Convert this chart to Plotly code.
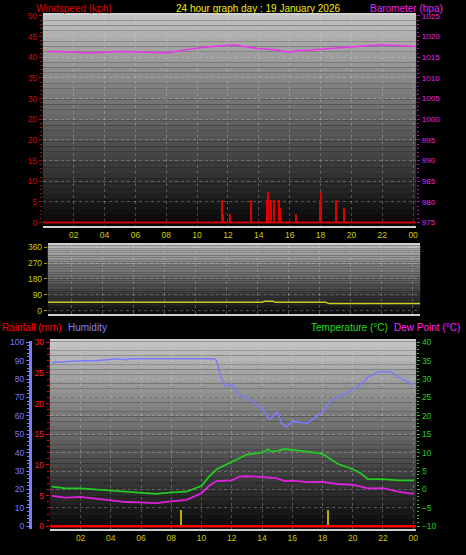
import plotly.graph_objects as go

# ---------------- data ----------------
hour_ticks = [2, 4, 6, 8, 10, 12, 14, 16, 18, 20, 22, 24]
hour_labels = ["02", "04", "06", "08", "10", "12", "14", "16", "18", "20", "22", "00"]

wind_t = [11.6, 11.7, 12.1, 13.5, 14.55, 14.62, 14.8, 15.0, 15.3, 15.4, 16.4, 17.98, 18.05, 19.0, 19.5]
wind_v = [5.5, 2.0, 2.0, 5.5, 5.5, 7.4, 5.5, 5.5, 5.5, 3.6, 2.0, 5.5, 7.4, 5.5, 3.6]

baro_t = [0.3, 1, 2, 3, 4, 5, 6, 7, 8, 9, 10, 11, 12, 12.5, 13, 14, 15, 16, 16.5, 17, 18, 19, 20, 21, 22, 23, 24.2]
baro_v = [1016.4, 1016.4, 1016.2, 1016.0, 1016.2, 1016.4, 1016.3, 1016.2, 1016.0, 1016.6, 1017.2, 1017.6,
          1017.9, 1018.0, 1017.6, 1017.1, 1016.8, 1016.2, 1016.6, 1016.6, 1016.9, 1017.2, 1017.6, 1017.8,
          1018.0, 1017.8, 1017.6]

dir_t = [0.45, 14.3, 14.45, 15.0, 15.15, 18.4, 18.6, 24.5]
dir_v = [47, 47, 54, 54, 47, 47, 40, 40]

hum_t = [0.1, 1, 2, 3, 4, 4.5, 5, 5.3, 6, 8, 10.8, 11, 11.3, 11.6, 12, 12.5, 13, 13.5, 14, 14.5, 15, 15.3,
         15.6, 16, 17, 17.5, 18, 18.5, 19, 20, 20.5, 21, 21.7, 22.5, 23, 24]
hum_v = [89, 89.5, 90, 90, 90.5, 91, 90.5, 91, 91, 91, 91, 90, 80, 76, 77, 71, 70, 67, 64, 58, 62, 56,
         54, 57, 56, 59, 62, 68, 70, 74, 77, 81, 84, 84, 81, 77]

temp_t = [0.1, 1, 2, 3, 4, 5, 6, 7, 8, 9, 10, 10.5, 11, 12, 13, 14, 14.4, 14.6, 15, 15.5, 16, 17, 18, 19,
          20, 20.5, 21, 22, 23, 24]
temp_v = [0.8, 0.3, 0.3, 0.0, -0.3, -0.7, -1.0, -1.2, -0.8, -0.6, 1.0, 3.5, 5.5, 7.5, 9.5, 10.0, 11.0,
          10.3, 10.5, 11.0, 10.8, 10.3, 9.7, 7.0, 5.5, 4.5, 2.8, 2.8, 2.5, 2.5]

dew_t = [0.1, 1, 2, 3, 4, 5, 6, 7, 8, 9, 10, 10.5, 11, 12, 12.5, 13, 14, 15, 15.5, 16, 17, 18, 19, 20,
         21, 22, 23, 24]
dew_v = [-1.7, -2.2, -2.0, -2.5, -2.8, -3.4, -3.5, -3.7, -3.2, -2.8, -1.0, 1.0, 2.3, 2.5, 3.5, 3.6, 3.4,
         3.0, 2.3, 2.4, 2.0, 2.1, 1.5, 1.3, 0.3, 0.4, -0.6, -1.2]

rain_t = [0.0, 24.2]
rain_v = [0.0, 0.0]

mark_t = [8.64, 18.34]
mark_v = [2.6, 2.6]

W, H = 466, 555
def px(x): return x / W
def py(y): return 1 - y / H

fig = go.Figure()

# panel 1
fig.add_trace(go.Scatter(x=[0, 24.3], y=[0, 0], mode="lines", line=dict(color="#cc0000", width=2),
                         xaxis="x", yaxis="y", hoverinfo="skip"))
fig.add_trace(go.Bar(x=wind_t, y=wind_v, width=0.08, marker=dict(color="#dd0000", line_width=0),
                     xaxis="x", yaxis="y"))
fig.add_trace(go.Scatter(x=baro_t, y=baro_v, mode="lines", line=dict(color="#ee33ee", width=1.5),
                         xaxis="x", yaxis="y2"))
# panel 2
fig.add_trace(go.Scatter(x=dir_t, y=dir_v, mode="lines", line=dict(color="#cccc22", width=1.5),
                         xaxis="x2", yaxis="y3"))
# panel 3
fig.add_trace(go.Scatter(x=rain_t, y=rain_v, mode="lines", line=dict(color="#ff0000", width=2.5),
                         xaxis="x3", yaxis="y6"))
fig.add_trace(go.Bar(x=mark_t, y=mark_v, width=0.08, marker=dict(color="#bbaa00", line_width=0),
                     xaxis="x3", yaxis="y6"))
fig.add_trace(go.Scatter(x=hum_t, y=hum_v, mode="lines", line=dict(color="#7b7bff", width=1.5),
                         xaxis="x3", yaxis="y5"))
fig.add_trace(go.Scatter(x=temp_t, y=temp_v, mode="lines", line=dict(color="#22cc22", width=1.8),
                         xaxis="x3", yaxis="y7"))
fig.add_trace(go.Scatter(x=dew_t, y=dew_v, mode="lines", line=dict(color="#dd22dd", width=1.8),
                         xaxis="x3", yaxis="y7"))

# gradient backgrounds
shapes = []
N = 40
for xr, yr, top, bot in [("x domain", "y domain", 192, 8), ("x2 domain", "y3 domain", 180, 14),
                         ("x3 domain", "y5 domain", 195, 10)]:
    for i in range(N):
        f = i / (N - 1)
        c = int(bot + (top - bot) * f)
        shapes.append(dict(type="rect", xref=xr, yref=yr, x0=0, x1=1, y0=i / N, y1=(i + 1) / N,
                           fillcolor=f"rgb({c},{c},{c})", line_width=0, layer="below"))

grid = dict(showgrid=True, gridcolor="rgba(220,220,220,0.3)", griddash="dot", gridwidth=1)
tf = dict(family="Liberation Sans, Arial", size=8.5)

def xax(domain, rng, show_labels, anchor):
    return dict(domain=domain, range=rng, anchor=anchor, tickvals=hour_ticks, ticktext=hour_labels,
                showticklabels=show_labels, tickfont=dict(tf, color="#cccc00"), ticks="",
                showline=True, linecolor="#d0d0d0", linewidth=2, mirror=True, zeroline=False, **grid)

layout = dict(
    width=W, height=H, paper_bgcolor="black", plot_bgcolor="black", showlegend=False,
    margin=dict(l=0, r=0, t=0, b=0), bargap=0, barmode="overlay", shapes=shapes,
    xaxis=xax([px(43), px(418)], [0, 24.2], True, "y"),
    yaxis=dict(domain=[py(224), py(11)], range=[-0.72, 50.24], anchor="x", dtick=5,
               tickfont=dict(tf, color="#dd0000"), ticks="outside", ticklen=3, tickcolor="#cc0000",
               minor=dict(ticks="outside", ticklen=2, dtick=1, tickcolor="#cc0000", showgrid=False),
               zeroline=False, **grid),
    yaxis2=dict(overlaying="y", side="right", anchor="x", range=[974.28, 1025.24], dtick=5,
                tickfont=dict(tf, size=8, color="#ee22ee"), ticks="outside", ticklen=3, tickcolor="#cc00cc",
                minor=dict(ticks="outside", ticklen=2, dtick=1, tickcolor="#cc00cc"),
                showgrid=False, zeroline=False),
    xaxis2=xax([px(48), px(422)], [0.45, 24.5], False, "y3"),
    yaxis3=dict(domain=[py(313), py(244)], range=[-16.9, 371], anchor="x2", tickvals=[0, 90, 180, 270, 360],
                tickfont=dict(tf, color="#cccc00"), ticks="outside", ticklen=3, tickcolor="#999900",
                zeroline=False, **grid),
    yaxis4=dict(overlaying="y3", side="right", anchor="free", position=px(434), range=[-16.9, 371],
                tickvals=[0, 90, 180, 270, 360], ticktext=["N", "E", "S", "W", "N"],
                tickfont=dict(family="Liberation Sans, Arial", size=12, color="#eeee00"),
                showgrid=False, showline=False, ticks="", zeroline=False),
    xaxis3=xax([px(50), px(418)], [-0.04, 24.2], True, "y5"),
    yaxis5=dict(domain=[py(531), py(341)], range=[-1.6, 100.5], anchor="free", position=px(30), dtick=10,
                tickfont=dict(tf, color="#7b7bff"), ticks="outside", ticklen=3, tickcolor="#7b7bff",
                showline=True, linecolor="#7b7bff", linewidth=3, zeroline=False,
                minor=dict(ticks="outside", ticklen=2, dtick=2, tickcolor="#7b7bff"), **grid),
    yaxis6=dict(overlaying="y5", anchor="x3", side="left", range=[-0.48, 30.16], dtick=5,
                tickfont=dict(tf, color="#ff2222"), ticks="outside", ticklen=3, tickcolor="#ff0000",
                minor=dict(ticks="outside", ticklen=2, dtick=1, tickcolor="#ff0000"),
                showgrid=False, zeroline=False),
    yaxis7=dict(overlaying="y5", anchor="x3", side="right", range=[-10.8, 40.27], dtick=5,
                tickfont=dict(tf, color="#22cc22"), ticks="outside", ticklen=3, tickcolor="#22cc22",
                minor=dict(ticks="outside", ticklen=2, dtick=1, tickcolor="#22cc22"),
                showgrid=False, zeroline=False),
)
fig.update_layout(**layout)

af = dict(family="Liberation Sans, Arial", size=10)
def ann(text, x, y, color, xanchor):
    fig.add_annotation(text=text, x=px(x), y=py(y), xref="paper", yref="paper", showarrow=False,
                       font=dict(af, color=color), xanchor=xanchor, yanchor="middle")
ann("Windspeed (kph)", 34, 5, "#dd0000", "left")
ann("24 hour graph day : 19 January 2026", 259, 5, "#eeee00", "center")
ann("Barometer (hpa)", 447, 4.5, "#ee22ee", "right")
ann("Rainfall (mm)", 0, 327, "#ff0000", "left")
ann("Humidity", 66, 327, "#8080ff", "left")
ann("Temperature (°C)", 392, 327, "#22dd22", "right")
ann("Dew Point (°C)", 464, 327, "#ff22ff", "right")

fig.write_html("out.html", config={"displayModeBar": False},
               post_script="document.body.style.margin='0';document.body.style.background='black';")
